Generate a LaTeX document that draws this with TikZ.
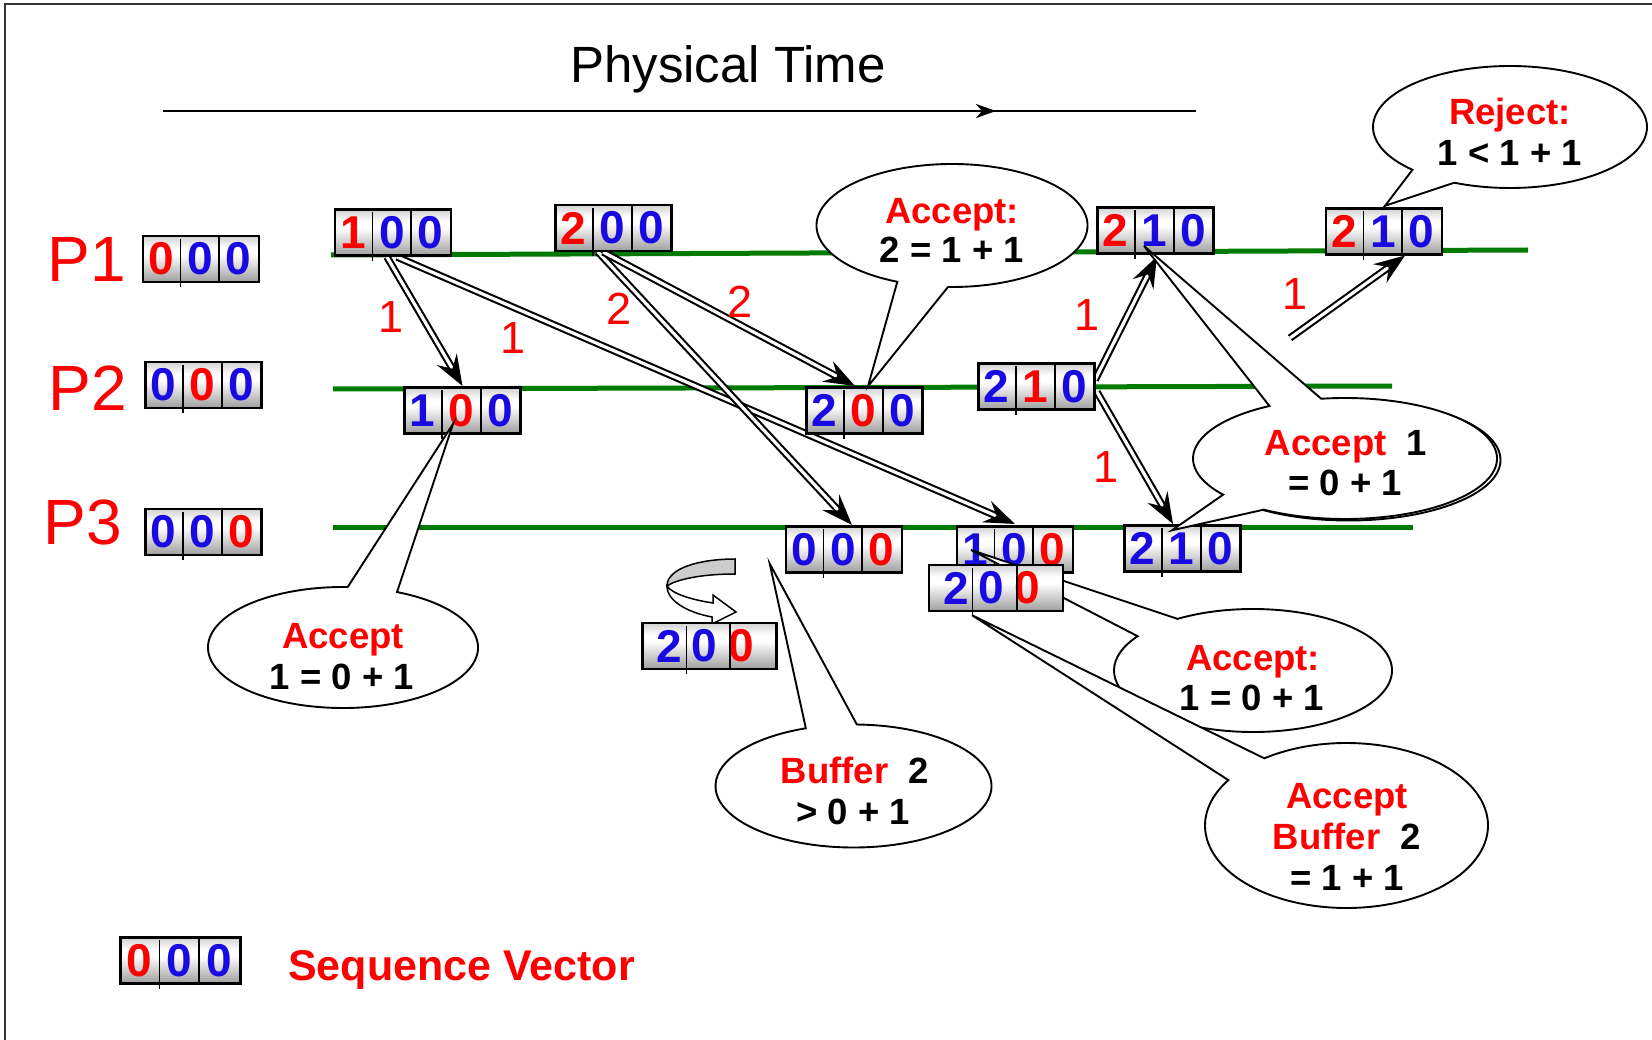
\documentclass[tikz,border=0pt]{standalone}
\usepackage{fontspec}
\setmainfont{Liberation Sans}
\usetikzlibrary{arrows.meta,calc}
\definecolor{sred}{RGB}{255,0,0}
\definecolor{sblue}{RGB}{25,10,225}
\definecolor{tgreen}{RGB}{0,122,0}
\pgfdeclareverticalshading{boxshade}{100bp}{color(0bp)=(black!38); color(25bp)=(black!38); color(55bp)=(white); color(62bp)=(white); color(75bp)=(black!18); color(100bp)=(black!18)}
\newcommand{\rd}[1]{\textcolor{sred}{#1}}
\newcommand{\bl}[1]{\textcolor{sblue}{#1}}
\newcommand{\seqbox}[6]{%
  \node[sbox, minimum width={3*#3 pt}] (#1) at #2 {};
  \node[dig] (#1-a) at ($(#1.west)+(0.5*#3,0)$) {#4};
  \node[dig] (#1-b) at ($(#1.west)+(1.5*#3,0)$) {#5};
  \node[dig] (#1-c) at ($(#1.west)+(2.5*#3,0)$) {#6};
  \draw[line width=1.1pt] ($(#1.north west)+(#3,4)$) -- ($(#1.south west)+(#3,4)$);
  \draw[line width=2pt] ($(#1.north west)+(2*#3,0)$) -- ($(#1.south west)+(2*#3,0)$);
}
\newcommand{\wseqbox}[5]{%
  \node[sbox, minimum width=134pt] (#1) at #2 {};
  \node[dig] (#1-a) at ($(#1.west)+(28,0)$) {#3};
  \node[dig] (#1-b) at ($(#1.west)+(63,0)$) {#4};
  \node[dig] (#1-c) at ($(#1.west)+(99.5,0)$) {#5};
  \draw[line width=1.1pt] ($(#1.north west)+(45,4)$) -- ($(#1.south west)+(45,4)$);
  \draw[line width=2pt] ($(#1.north west)+(89,0)$) -- ($(#1.south west)+(89,0)$);
}
\newcommand{\bubble}[6]{\draw[bub] (#4) -- ($(#1)+(#5:#2 and #3)$) arc[start angle=#5, end angle=#6, x radius=#2, y radius=#3] -- cycle;}
\tikzset{
  sbox/.style={draw=black, line width=2.4pt, minimum height=46pt, inner sep=0pt, shade, shading=boxshade},
  dig/.style={inner sep=0pt, font=\fontsize{46}{46}\selectfont\bfseries},
  tline/.style={tgreen, line width=5pt},
  darrow/.style={double=white, double distance=3.2pt, line width=2.1pt, -{Stealth[length=31pt,width=23pt,inset=11pt]}},
  lab/.style={text=sred, inner sep=0pt, font=\fontsize{45}{45}\selectfont},
  bub/.style={draw=black, fill=white, line width=1.9pt, line join=miter},
  btxt/.style={inner sep=0pt, anchor=base, font=\fontsize{36.5}{40}\selectfont\bfseries},
  plab/.style={text=sred, inner sep=0pt, anchor=base, font=\fontsize{64}{64}\selectfont},
}
\begin{document}
\begin{tikzpicture}[x=1pt, y=-1pt]
\useasboundingbox (0,0) rectangle (1652,1040);
% frame
\draw[line width=1.5pt, black!80] (5,1040) -- (5,4) -- (1652,4);
% physical time
\node[font=\fontsize{51}{51}\selectfont, anchor=base, inner sep=0pt] (title) at (728,83) {Physical Time};
\coordinate (ta) at (163,111); \coordinate (tb) at (1196,111); \coordinate (tm) at (996,111);
\draw[line width=2pt] (ta) -- (tb);
\draw[line width=2pt, -{Stealth[length=20pt,width=14pt,inset=6pt]}] (ta) -- (tm);
% process labels
\node[plab] (P1) at (87,282) {P1};
\node[plab] (P2) at (88,410) {P2};
\node[plab] (P3) at (83,544) {P3};
% time lines
\draw[tline] (331,255) -- (1528,250);
\draw[tline] (333,389) -- (1392,386);
\draw[tline] (333,527) -- (1413,527);
% box centres
\coordinate (f7) at (1290,338);
\coordinate (mm1) at (393,232.5);
\coordinate (mm2) at (613.5,228);
\coordinate (qq1) at (1155.5,230.5);
\coordinate (qq2) at (1384,231.5);
\coordinate (pa) at (462.5,410.5);
\coordinate (pb) at (864.5,410.5);
\coordinate (pc) at (1036.5,386.5);
\coordinate (ra) at (844,549.5);
\coordinate (rb) at (1015,549.5);
\coordinate (rd) at (1182.5,548.5);
% initial vectors and legend
\seqbox{i1}{(201,259)}{38.7}{\rd{0}}{\bl{0}}{\bl{0}}
\seqbox{i2}{(203.5,385)}{38.7}{\bl{0}}{\rd{0}}{\bl{0}}
\seqbox{i3}{(203.5,532)}{38.7}{\bl{0}}{\bl{0}}{\rd{0}}
\seqbox{lg}{(180.5,960.5)}{40}{\rd{0}}{\bl{0}}{\bl{0}}
\node[anchor=base west, inner sep=0pt, text=sred, font=\fontsize{43}{43}\selectfont\bfseries] (legend) at (288,980) {Sequence Vector};
% message arrows
\draw[darrow] ($(mm1)+(-6,24.5)$) -- ($(pa)+(0,-24.5)$);
\draw[darrow] ($(mm1)+(4,24.5)$) -- ($(rb)+(0,-25.5)$);
\draw[darrow] ($(mm2)+(-15.5,24)$) -- ($(ra)+(8,-24.5)$);
\draw[darrow] ($(mm2)+(-10.5,24)$) -- ($(pb)+(-9.5,-24.5)$);
\draw[darrow] ($(pc)+(58.5,-6.5)$) -- ($(qq1)+(1.5,26)$);
\draw[darrow] ($(pc)+(60.5,5.5)$) -- ($(rd)+(-9.5,-24.5)$);
\draw[darrow] (f7) -- ($(qq2)+(21,24)$);
% message boxes
\seqbox{m1}{(mm1)}{38.7}{\rd{1}}{\bl{0}}{\bl{0}}
\seqbox{m2}{(mm2)}{38.7}{\rd{2}}{\bl{0}}{\bl{0}}
\seqbox{q1}{(qq1)}{38.7}{\rd{2}}{\bl{1}}{\bl{0}}
\seqbox{q2}{(qq2)}{38.7}{\rd{2}}{\bl{1}}{\bl{0}}
\seqbox{p2a}{(pa)}{38.7}{\bl{1}}{\rd{0}}{\bl{0}}
\seqbox{p2b}{(pb)}{38.7}{\bl{2}}{\rd{0}}{\bl{0}}
\seqbox{p2c}{(pc)}{38.7}{\bl{2}}{\rd{1}}{\bl{0}}
\seqbox{p3a}{(ra)}{38.7}{\bl{0}}{\bl{0}}{\rd{0}}
\seqbox{p3b}{(rb)}{38.7}{\bl{1}}{\bl{0}}{\rd{0}}
\seqbox{p3d}{(rd)}{38.7}{\bl{2}}{\bl{1}}{\bl{0}}
% arrow labels
\node[lab] (l1) at (391,317) {1};
\node[lab] (l2) at (513,338) {1};
\node[lab] (l3) at (619,309) {2};
\node[lab] (l4) at (740,302) {2};
\node[lab] (l5) at (1087,315) {1};
\node[lab] (l6) at (1106,467) {1};
\node[lab] (l7) at (1295,294) {1};
% curved arrow
\draw[line width=1.5pt, fill=black!20] (735,559) .. controls (700,559) and (667,568) .. (667,586) .. controls (675,580) and (700,574) .. (735,574) -- cycle;
\draw[line width=1.5pt, fill=white] (667,586) .. controls (667,602) and (690,613) .. (712,617) -- (712,624) -- (736,612) -- (713,595) -- (713,603) .. controls (693,600) and (672,594) .. (667,586) -- cycle;
\wseqbox{lone}{(709.5,646)}{\bl{2}}{\bl{0}}{\rd{0}}
% bubble tips
\coordinate (tA) at ($(p2a.center)+(-9.5,13.5)$);
\coordinate (tB) at ($(p2b.north)+(3.5,0)$);
\coordinate (tC) at ($(q2.north)+(1,-1.5)$);
\coordinate (tDt) at ($(q1.center)+(-11.5,15.5)$);
\coordinate (tDb) at ($(p3d.north)+(-10.5,6)$);
\coordinate (tE) at ($(p3a.south west)+(-15,-10)$);
\coordinate (tF) at ($(p3b.center)+(-44,0.5)$);
% bubble centres
\coordinate (cA) at (343,647.5);
\coordinate (cB) at (952,225.5);
\coordinate (cC) at (1510,127);
\coordinate (cD) at (1345,458.5);
\coordinate (cE) at (853.5,786);
\coordinate (cF) at (1253,670.5);
\coordinate (cG) at (1346.5,825.5);
% bubble A
\bubble{cA}{135}{60.5}{tA}{293.6}{632}
\node[btxt, text=sred] (A1) at (343,648) {Accept};
\node[btxt] (A2) at (342,689) {1 = 0 + 1};
% bubble B
\bubble{cB}{135.5}{61.5}{tB}{113.8}{451.7}
\node[btxt, text=sred] (B1) at (952,224) {Accept:};
\node[btxt] (B2) at (952,263) {2 = 1 + 1};
% bubble C
\bubble{cC}{137}{61}{tC}{135.4}{474}
\node[btxt, text=sred] (C1) at (1510,125) {Reject:};
\node[btxt] (C2) at (1510,166) {1 {<} 1 + 1};
% bubble D
\draw[line width=1.9pt] ($(cD)+(3.5,1.5)$) ellipse [x radius=152, y radius=60.5];
\draw[bub] (tDt) -- ($(cD)+(261:152 and 60.5)$) arc[start angle=261, end angle=482.3, x radius=152, y radius=60.5] -- (tDb) -- ($(cD)+(143.3:152 and 60.5)$) arc[start angle=143.3, end angle=240.2, x radius=152, y radius=60.5] -- cycle;
\node[btxt] (D1) at (1346,455) {\rd{Accept}\ \ 1};
\node[btxt] (D2) at (1345,495) {= 0 + 1};
% bubble E
\bubble{cE}{138}{61.5}{tE}{271.4}{609.8}
\node[btxt] (E1) at (855,783) {\rd{Buffer}\ \ 2};
\node[btxt] (E2) at (853,824) {{>} 0 + 1};
% bubble F
\bubble{cF}{139}{61.5}{tF}{237.1}{573.9}
\node[btxt, text=sred] (F1) at (1253,670) {Accept:};
\node[btxt] (F2) at (1252,710) {1 = 0 + 1};
% overlapping box
\wseqbox{p3c}{(996,588)}{\bl{2}}{\bl{0}}{\rd{0}}
\coordinate (tG) at ($(p3c.south)+(-24,3)$);
% bubble G
\bubble{cG}{141.5}{82.5}{tG}{234.5}{573.4}
\node[btxt, text=sred] (G1) at (1347,808) {Accept};
\node[btxt] (G2) at (1347,849) {\rd{Buffer}\ \ 2};
\node[btxt] (G3) at (1347,890) {= 1 + 1};
\end{tikzpicture}
\end{document}
